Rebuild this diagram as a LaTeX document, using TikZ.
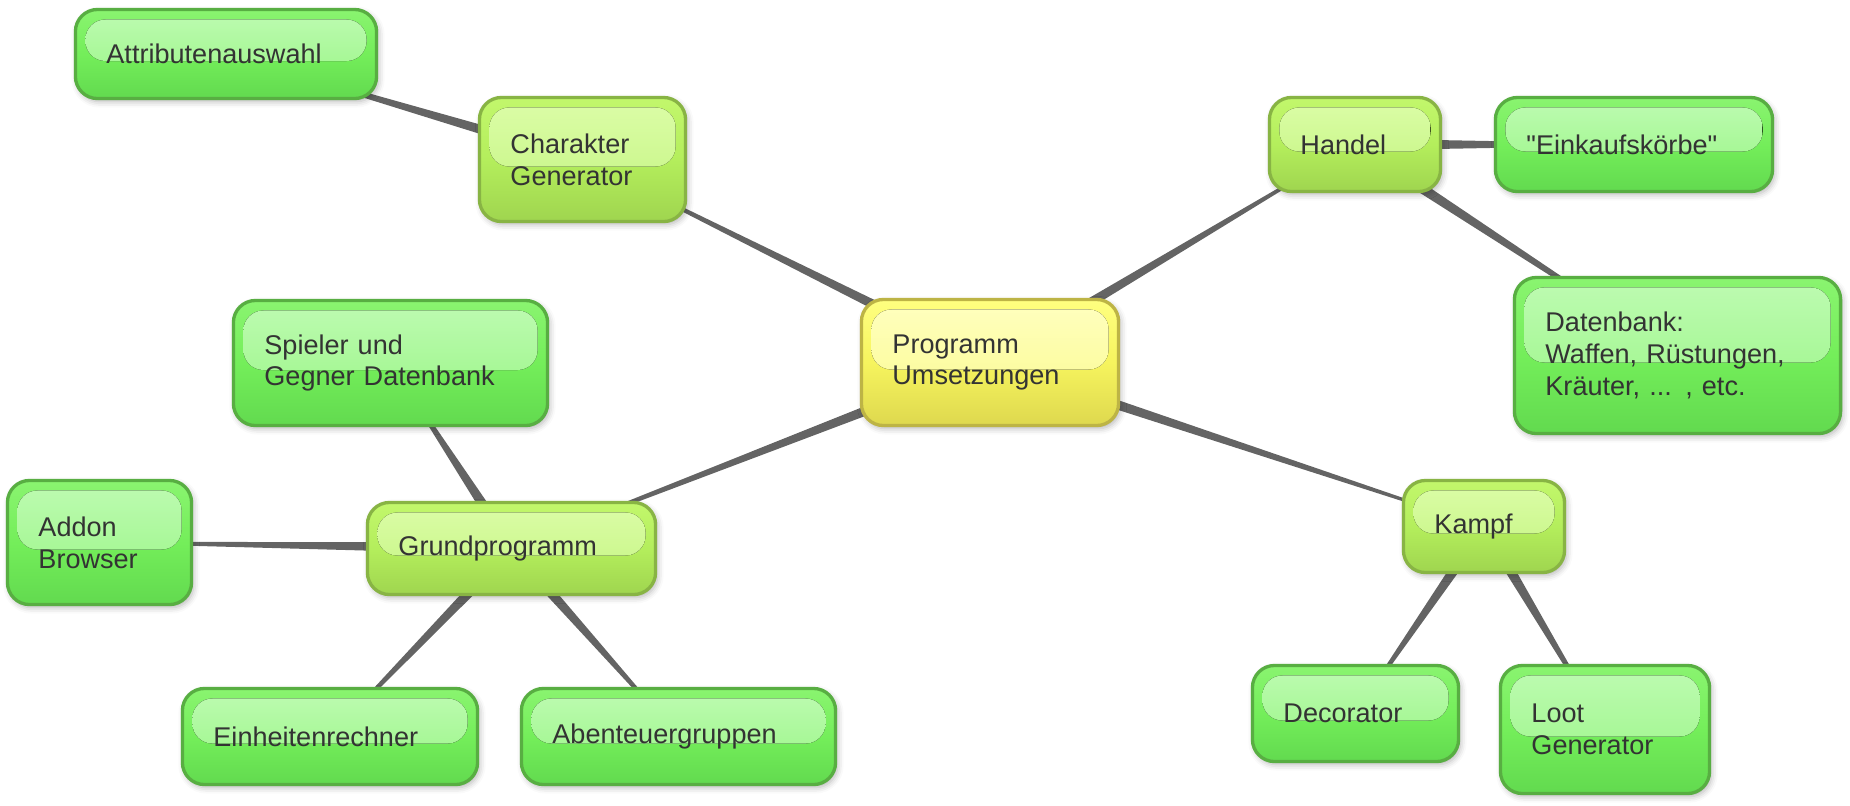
\documentclass[tikz,border=0pt]{standalone}
\usepackage{fontspec}
\setmainfont{Liberation Sans}
\usetikzlibrary{calc,shadows.blur}

\definecolor{paper}{HTML}{F8F8F8}
\definecolor{linkgrey}{HTML}{646464}
\definecolor{textgrey}{HTML}{333333}
\definecolor{leafline}{HTML}{58AE42}
\definecolor{leaftop}{HTML}{8AF470}
\definecolor{leafmid}{HTML}{74EE5A}
\definecolor{leafbot}{HTML}{62DA4F}
\definecolor{leafhia}{HTML}{BEFBB2}
\definecolor{leafhib}{HTML}{96F582}
\definecolor{subline}{HTML}{88B444}
\definecolor{subtop}{HTML}{C2F76C}
\definecolor{submid}{HTML}{B4EE5C}
\definecolor{subbot}{HTML}{9FD54F}
\definecolor{subhia}{HTML}{DCFDA8}
\definecolor{subhib}{HTML}{C2F47E}
\definecolor{hubline}{HTML}{BDB445}
\definecolor{hubtop}{HTML}{FFFF80}
\definecolor{hubmid}{HTML}{F6F45E}
\definecolor{hubbot}{HTML}{DED84E}
\definecolor{hubhia}{HTML}{FFFFC0}
\definecolor{hubhib}{HTML}{FAFA8A}

\pgfdeclarelayer{bg}
\pgfsetlayers{bg,main}

\newcommand{\mmlink}[2]{\fill[linkgrey] ($(#1)!0.06cm!90:(#2)$) -- ($(#1)!0.06cm!-90:(#2)$) -- ($(#2)!0.008cm!90:(#1)$) -- ($(#2)!0.008cm!-90:(#1)$) -- cycle;}

\tikzset{
  softshadow/.style={blur shadow={shadow xshift=0.02cm, shadow yshift=-0.03cm, shadow blur radius=0.06cm, shadow opacity=30}},
  mmbox/.style={rectangle, rounded corners=0.22cm, line width=0.033cm, inner xsep=0.31cm, inner ysep=0pt,
    align=left, text=textgrey, font=\fontsize{7.7}{9}\selectfont, softshadow},
  gloss/.style 2 args={path picture={\fill[top color=#1, bottom color=#2, rounded corners=0.2cm]
    ([shift={(0.1cm,-0.1cm)}]path picture bounding box.north west) rectangle
    ([shift={(-0.1cm,-0.07cm)}]path picture bounding box.east);}},
  leaf/.style={mmbox, draw=leafline, top color=leaftop, bottom color=leafbot, middle color=leafmid, gloss={leafhia}{leafhib}},
  sub/.style={mmbox, draw=subline, top color=subtop, bottom color=subbot, middle color=submid, gloss={subhia}{subhib}},
  hub/.style={mmbox, draw=hubline, top color=hubtop, bottom color=hubbot, middle color=hubmid, gloss={hubhia}{hubhib}}
}

\begin{document}
\begin{tikzpicture}[x=0.01cm, y=-0.01cm]
  \useasboundingbox (0,0) rectangle (1850,805);
  \begin{pgfonlayer}{bg}
    \fill[paper] (0,0) rectangle (1850,805);
  \end{pgfonlayer}
  \path[softshadow] (-900,-900) rectangle (-890,-890);

  \node[sub, text width=1.44cm, minimum height=1.24cm] (char) at (582.5,159.5) {Charakter\\Generator};
  \node[leaf, text width=2.39cm, minimum height=0.89cm] (attr) at (226,54) {Attributenauswahl};

  \node[sub, text width=1.09cm, minimum height=0.94cm] (handel) at (1355,144.5) {Handel};
  \node[leaf, text width=2.15cm, minimum height=0.94cm] (korb) at (1634,144.5) {\textquotedbl Einkaufskörbe\textquotedbl};
  \node[leaf, text width=2.64cm, minimum height=1.56cm] (dbank) at (1677.5,355.5) {Datenbank:\\Waffen, Rüstungen,\\Kräuter, ... , etc.};

  \node[hub, text width=1.95cm, minimum height=1.26cm] (prog) at (990,362.5) {Programm\\Umsetzungen};

  \node[sub, text width=2.26cm, minimum height=0.92cm] (grund) at (511.5,548.5) {Grundprogramm};
  \node[leaf, text width=2.52cm, minimum height=1.25cm] (spieler) at (390.5,363) {Spieler und\\Gegner Datenbank};
  \node[leaf, text width=1.22cm, minimum height=1.24cm] (addon) at (99.5,542.5) {Addon\\Browser};
  \node[leaf, text width=2.33cm, minimum height=0.96cm] (einheit) at (330,736.5) {Einheitenrechner};
  \node[leaf, text width=2.52cm, minimum height=0.96cm] (gruppe) at (678.5,736.5) {Abenteuergruppen};

  \node[sub, text width=0.99cm, minimum height=0.92cm] (kampf) at (1484,526.5) {Kampf};
  \node[leaf, text width=1.44cm, minimum height=0.96cm] (deco) at (1355.5,713.5) {Decorator};
  \node[leaf, text width=1.47cm, minimum height=1.28cm] (loot) at (1605,729.5) {Loot\\Generator};

  \begin{pgfonlayer}{bg}
    \mmlink{prog}{char}
    \mmlink{char}{attr}
    \mmlink{prog}{handel}
    \mmlink{handel}{korb}
    \mmlink{handel}{dbank}
    \mmlink{prog}{grund}
    \mmlink{grund}{spieler}
    \mmlink{grund}{addon}
    \mmlink{grund}{einheit}
    \mmlink{grund}{gruppe}
    \mmlink{prog}{kampf}
    \mmlink{kampf}{deco}
    \mmlink{kampf}{loot}
  \end{pgfonlayer}
\end{tikzpicture}
\end{document}
